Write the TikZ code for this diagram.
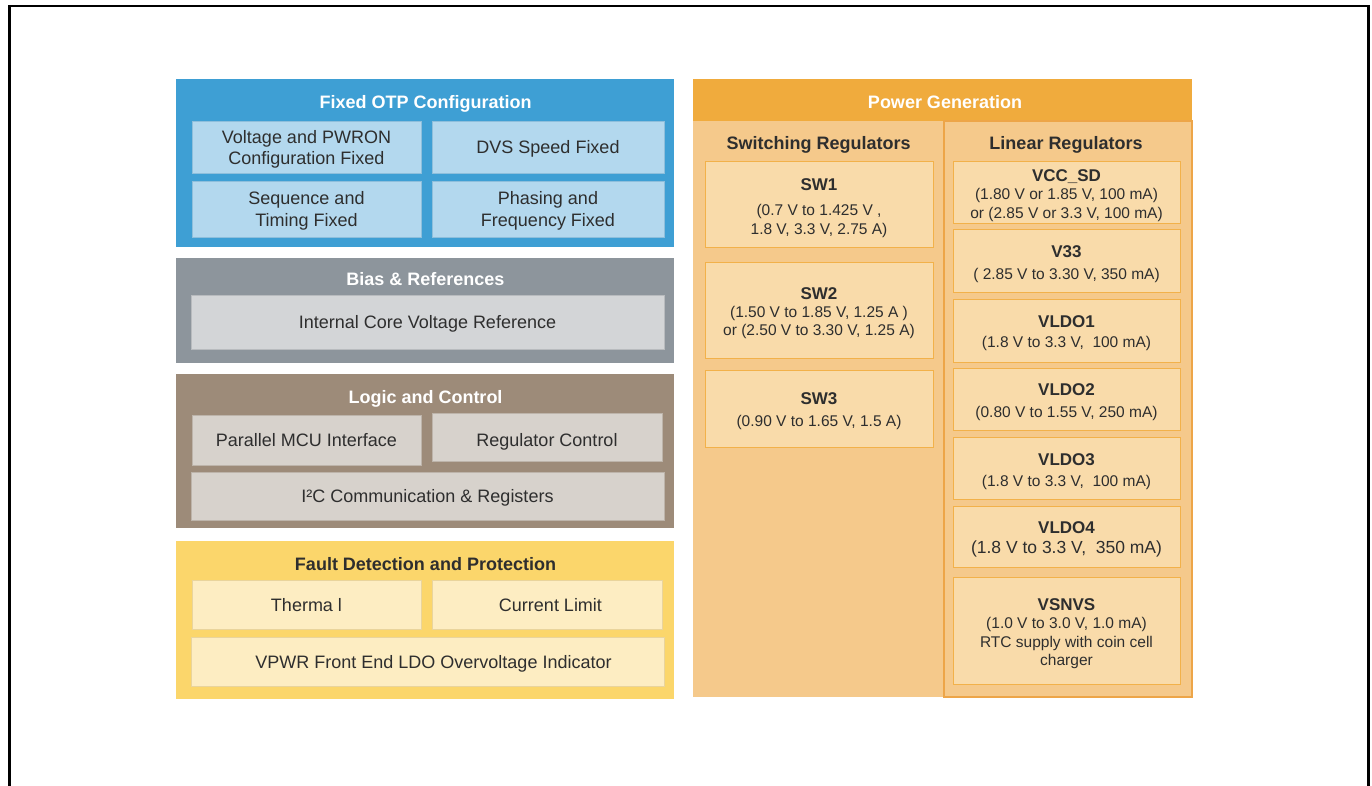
\documentclass[tikz,border=0pt]{standalone}
\usepackage{fontspec}
\setmainfont{Liberation Sans}
\definecolor{txt}{HTML}{2E2E2E}
\definecolor{otpc}{HTML}{3E9FD4}
\definecolor{otps}{HTML}{B3D8EE}
\definecolor{otpb}{HTML}{8EBFDC}
\definecolor{biasc}{HTML}{8D959C}
\definecolor{biass}{HTML}{D3D5D7}
\definecolor{biasb}{HTML}{B8BBBE}
\definecolor{logc}{HTML}{9D8B79}
\definecolor{logs}{HTML}{D7D2CC}
\definecolor{logb}{HTML}{BDB4AA}
\definecolor{fltc}{HTML}{FBD66B}
\definecolor{flts}{HTML}{FDEDC2}
\definecolor{fltb}{HTML}{E9D49C}
\definecolor{pwhd}{HTML}{F0AB3D}
\definecolor{pwbody}{HTML}{F5C98B}
\definecolor{pwsub}{HTML}{F9DBAA}
\definecolor{pwline}{HTML}{F2B14A}
\definecolor{pwcol}{HTML}{EDA548}
\begin{document}
\begin{tikzpicture}[x=1pt,y=-1pt,
  every node/.style={inner sep=0pt, outer sep=0pt},
  blk/.style={anchor=north west, draw=none},
  sbox/.style={anchor=north west, align=center, text=txt, line width=0.8pt, text depth=0pt, font=\fontsize{18}{21}\selectfont},
  hdr/.style={yshift=-2pt, font=\bfseries\fontsize{18}{21}\selectfont},
  pbox/.style={anchor=north west, fill=pwsub, draw=pwline, line width=1pt},
  ptitle/.style={yshift=-2pt, font=\bfseries\fontsize{17}{20}\selectfont, text=txt},
  pval/.style={yshift=-2pt, font=\fontsize{15.5}{18.2}\selectfont, text=txt, align=center}]
\useasboundingbox (0,0) rectangle (1372,786);
\fill[white] (0,0) rectangle (1372,786);
\draw[line width=2.5pt, black] (9.5,786) -- (9.5,6) -- (1368.5,6) -- (1368.5,786);

% ---------- Fixed OTP Configuration ----------
\node[blk, fill=otpc, minimum width=498pt, minimum height=168pt] (otp) at (176,79) {};
\node[hdr, text=white] (otpt) at (425.5,102) {Fixed OTP Configuration};
\node[sbox, fill=otps, draw=otpb, minimum width=229pt, minimum height=52pt] (otp1) at (192,121) {Voltage and PWRON\\Configuration Fixed};
\node[sbox, fill=otps, draw=otpb, minimum width=232pt, minimum height=52pt] (otp2) at (432,121) {DVS Speed Fixed};
\node[sbox, fill=otps, draw=otpb, minimum width=229pt, minimum height=56pt, font=\fontsize{18}{22}\selectfont] (otp3) at (192,181) {Sequence and\\Timing Fixed};
\node[sbox, fill=otps, draw=otpb, minimum width=232pt, minimum height=56pt, font=\fontsize{18}{22}\selectfont] (otp4) at (432,181) {Phasing and\\Frequency Fixed};

% ---------- Bias & References ----------
\node[blk, fill=biasc, minimum width=498pt, minimum height=105pt] (bias) at (176,258) {};
\node[hdr, text=white] (biast) at (425.5,277) {Bias \& References};
\node[sbox, fill=biass, draw=biasb, minimum width=473pt, minimum height=54pt] (bias1) at (191,295) {Internal Core Voltage Reference};

% ---------- Logic and Control ----------
\node[blk, fill=logc, minimum width=498pt, minimum height=154pt] (logic) at (176,374) {};
\node[hdr, text=white] (logict) at (425.5,397) {Logic and Control};
\node[sbox, fill=logs, draw=logb, minimum width=229pt, minimum height=50pt] (log1) at (192,415) {Parallel MCU Interface};
\node[sbox, fill=logs, draw=logb, minimum width=230pt, minimum height=48pt] (log2) at (432,413) {\raisebox{-3pt}[\height][0pt]{Regulator Control}};
\node[sbox, fill=logs, draw=logb, minimum width=473pt, minimum height=48pt] (log3) at (191,472) {I²C Communication \& Registers};

% ---------- Fault Detection and Protection ----------
\node[blk, fill=fltc, minimum width=498pt, minimum height=158pt] (fault) at (176,541) {};
\node[hdr, text=txt] (faultt) at (425.5,562) {Fault Detection and Protection};
\node[sbox, fill=flts, draw=fltb, minimum width=229pt, minimum height=49pt] (flt1) at (192,580) {Therma l};
\node[sbox, fill=flts, draw=fltb, minimum width=230pt, minimum height=49pt] (flt2) at (432,580) {\hspace*{7pt}Current Limit};
\node[sbox, fill=flts, draw=fltb, minimum width=473pt, minimum height=49pt] (flt3) at (191,637) {\hspace*{12pt}VPWR Front End LDO Overvoltage Indicator};

% ---------- Power Generation ----------
\node[blk, fill=pwbody, minimum width=499pt, minimum height=618pt] (pw) at (693,79) {};
\node[blk, fill=pwhd, minimum width=499pt, minimum height=42pt] (pwh) at (693,79) {};
\node[hdr, text=white] (pwt) at (945,100) {Power Generation};
\node[blk, draw=pwcol, line width=1.2pt, minimum width=248pt, minimum height=576pt] (lincol) at (944,121) {};
\node[hdr, text=txt] (swt) at (818.7,143) {Switching Regulators};
\node[hdr, text=txt] (lint) at (1066,143) {Linear Regulators};

% switching regulators
\node[pbox, minimum width=228pt, minimum height=86pt] (sw1) at (705,162) {};
\node[ptitle] (sw1t) at (819,183) {SW1};
\node[pval] (sw1v) at (819,219) {(0.7 V to 1.425 V ,\\1.8 V, 3.3 V, 2.75 A)};

\node[pbox, minimum width=228pt, minimum height=96pt] (sw2) at (705,262) {};
\node[ptitle] (sw2t) at (819,292) {SW2};
\node[pval] (sw2v) at (819,320.5) {(1.50 V to 1.85 V, 1.25 A )\\or (2.50 V to 3.30 V, 1.25 A)};

\node[pbox, minimum width=228pt, minimum height=77pt] (sw3) at (705,370) {};
\node[ptitle] (sw3t) at (819,397) {SW3};
\node[pval] (sw3v) at (819,420) {(0.90 V to 1.65 V, 1.5 A)};

% linear regulators
\node[pbox, minimum width=227pt, minimum height=62pt] (vcc) at (953,162) {};
\node[ptitle] (vcct) at (1066.5,174.5) {VCC\_SD};
\node[pval] (vccv) at (1066.5,203) {(1.80 V or 1.85 V, 100 mA)\\or (2.85 V or 3.3 V, 100 mA)};

\node[pbox, minimum width=227pt, minimum height=62pt] (v33) at (953,230) {};
\node[ptitle] (v33t) at (1066.5,250) {V33};
\node[pval] (v33v) at (1066.5,273.3) {( 2.85 V to 3.30 V, 350 mA)};

\node[pbox, minimum width=227pt, minimum height=63pt] (ldo1) at (953,299) {};
\node[ptitle] (ldo1t) at (1066.5,319.3) {VLDO1};
\node[pval] (ldo1v) at (1066.5,341.7) {(1.8 V to 3.3 V,\ \ 100 mA)};

\node[pbox, minimum width=227pt, minimum height=62pt] (ldo2) at (953,368) {};
\node[ptitle] (ldo2t) at (1066.5,387.3) {VLDO2};
\node[pval] (ldo2v) at (1066.5,411) {(0.80 V to 1.55 V, 250 mA)};

\node[pbox, minimum width=227pt, minimum height=62pt] (ldo3) at (953,437) {};
\node[ptitle] (ldo3t) at (1066.5,457.3) {VLDO3};
\node[pval] (ldo3v) at (1066.5,480.7) {(1.8 V to 3.3 V,\ \ 100 mA)};

\node[pbox, minimum width=227pt, minimum height=61pt] (ldo4) at (953,506) {};
\node[ptitle] (ldo4t) at (1066.5,525.7) {VLDO4};
\node[pval, font=\fontsize{17.5}{20}\selectfont] (ldo4v) at (1066.5,547.3) {(1.8 V to 3.3 V,\ \ 350 mA)};

\node[pbox, minimum width=227pt, minimum height=107pt] (snvs) at (953,577) {};
\node[ptitle] (snvst) at (1066.5,603) {VSNVS};
\node[pval] (snvsv) at (1066.5,641) {(1.0 V to 3.0 V, 1.0 mA)\\RTC supply with coin cell\\charger};
\end{tikzpicture}
\end{document}
